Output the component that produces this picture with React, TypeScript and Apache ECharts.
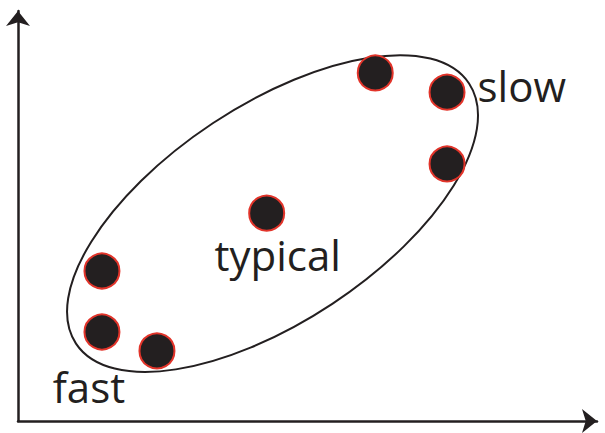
import React, { useEffect, useRef } from "react";
import * as echarts from "echarts";

// Point values (arbitrary units, x: 0–100, y: 0–100)
const pointX = [61.7, 74.1, 74.1, 42.95, 14.5, 14.5, 24.0];
const pointY = [84.9, 80.2, 62.7, 50.7, 36.6, 21.7, 17.1];
const pointLabels = ["", "slow", "", "typical", "", "", "fast"];

// Enclosing ellipse: center (data units), semi-axes (x-axis units), tilt (degrees)
const ellipseCenter = [43.96, 50.6];
const ellipseAxes = [40.7, 18.7];
const ellipseTilt = [33.5];

const INK = "#231f20";
const RED = "#e2342a";

export default function App() {
  const ref = useRef<HTMLDivElement>(null);
  useEffect(() => {
    if (!ref.current) return;
    const chart = echarts.init(ref.current, null, { renderer: "svg" });
    const labelStyles: Record<string, any> = {
      slow: { show: true, position: "right", distance: 12, offset: [0, -7] },
      typical: { show: true, position: "bottom", distance: 2, offset: [11, 0] },
      fast: { show: true, position: "bottom", offset: [-68, -9] },
    };
    const pts = pointX.map((x, i) => {
      const item: any = { value: [x, pointY[i]], name: pointLabels[i] };
      if (pointLabels[i]) {
        item.label = {
          ...labelStyles[pointLabels[i]],
          formatter: "{b}",
          color: INK,
          fontFamily: "Open Sans",
          fontSize: 42,
        };
      }
      return item;
    });
    chart.setOption({
      animation: false,
      grid: { left: 18, right: 8, top: 11, bottom: 12 },
      xAxis: {
        type: "value",
        min: 0,
        max: 100,
        axisLine: {
          show: true,
          symbol: ["none", "arrow"],
          symbolSize: [18, 15],
          lineStyle: { color: INK, width: 2.5 },
        },
        axisTick: { show: false },
        axisLabel: { show: false },
        splitLine: { show: false },
      },
      yAxis: {
        type: "value",
        min: 0,
        max: 100,
        axisLine: {
          show: true,
          symbol: ["none", "arrow"],
          symbolSize: [18, 15],
          lineStyle: { color: INK, width: 2.5 },
        },
        axisTick: { show: false },
        axisLabel: { show: false },
        splitLine: { show: false },
      },
      series: [
        {
          type: "custom",
          silent: true,
          data: [[ellipseCenter[0], ellipseCenter[1], ellipseAxes[0], ellipseAxes[1], ellipseTilt[0]]],
          renderItem: (params: any, api: any) => {
            const c = api.coord([api.value(0), api.value(1)]);
            const rx = api.size([api.value(2), 0])[0];
            const ry = api.size([api.value(3), 0])[0];
            const rot = (api.value(4) * Math.PI) / 180;
            return {
              type: "ellipse",
              x: c[0],
              y: c[1],
              rotation: rot,
              shape: { cx: 0, cy: 0, rx, ry },
              style: { fill: "none", stroke: INK, lineWidth: 2 },
            };
          },
          z: 1,
        },
        {
          type: "scatter",
          symbol: "circle",
          symbolSize: 35,
          data: pts,
          itemStyle: { color: INK, borderColor: RED, borderWidth: 2, opacity: 1 },
          z: 2,
        },
      ],
    });
    return () => chart.dispose();
  }, []);
  return (
    <div
      ref={ref}
      style={{ position: "absolute", left: 0, top: 0, width: 605, height: 433, background: "#fff" }}
    />
  );
}
